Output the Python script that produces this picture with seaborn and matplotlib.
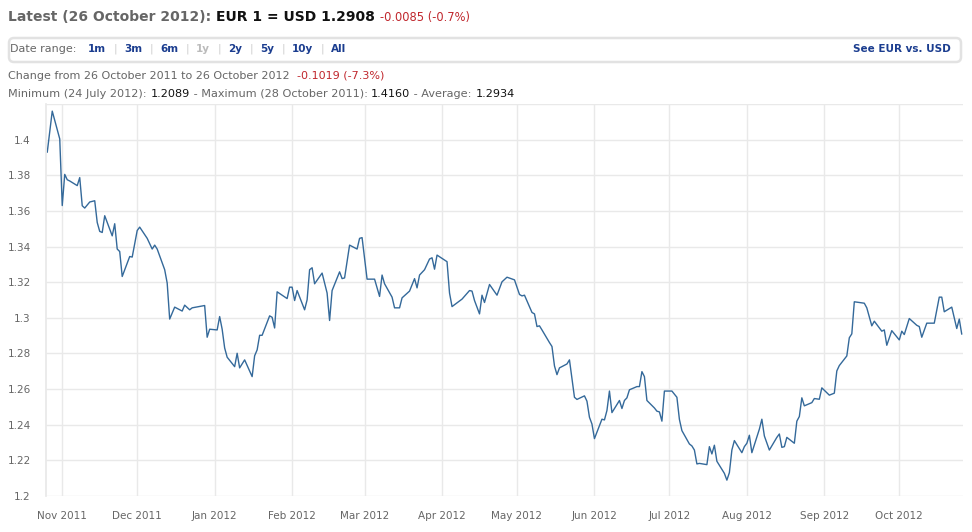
#!/usr/bin/env python3

import pandas as pd
import matplotlib.pyplot as plt
import matplotlib.dates as mdates
from matplotlib.patches import FancyBboxPatch
from matplotlib.transforms import IdentityTransform
import seaborn as sns

# EUR -> USD (26 Oct 2011 .. 26 Oct 2012)
dates = [
    "2011-10-26", "2011-10-28", "2011-10-31", "2011-11-01", "2011-11-02", "2011-11-03",
    "2011-11-04", "2011-11-07", "2011-11-08", "2011-11-09", "2011-11-10", "2011-11-12",
    "2011-11-14", "2011-11-15", "2011-11-16", "2011-11-17", "2011-11-18", "2011-11-21",
    "2011-11-22", "2011-11-23", "2011-11-24", "2011-11-25", "2011-11-28", "2011-11-29",
    "2011-12-01", "2011-12-02", "2011-12-05", "2011-12-07", "2011-12-08", "2011-12-09",
    "2011-12-12", "2011-12-13", "2011-12-14", "2011-12-16", "2011-12-19", "2011-12-20",
    "2011-12-22", "2011-12-23", "2011-12-28", "2011-12-29", "2011-12-30", "2012-01-02",
    "2012-01-03", "2012-01-04", "2012-01-05", "2012-01-06", "2012-01-09", "2012-01-10",
    "2012-01-11", "2012-01-13", "2012-01-16", "2012-01-17", "2012-01-18", "2012-01-19",
    "2012-01-20", "2012-01-23", "2012-01-24", "2012-01-25", "2012-01-26", "2012-01-30",
    "2012-01-31", "2012-02-01", "2012-02-02", "2012-02-03", "2012-02-06", "2012-02-07",
    "2012-02-08", "2012-02-09", "2012-02-10", "2012-02-13", "2012-02-15", "2012-02-16",
    "2012-02-17", "2012-02-20", "2012-02-21", "2012-02-22", "2012-02-24", "2012-02-27",
    "2012-02-28", "2012-02-29", "2012-03-02", "2012-03-05", "2012-03-07", "2012-03-08",
    "2012-03-09", "2012-03-12", "2012-03-13", "2012-03-15", "2012-03-16", "2012-03-19",
    "2012-03-21", "2012-03-22", "2012-03-23", "2012-03-25", "2012-03-27", "2012-03-28",
    "2012-03-29", "2012-03-30", "2012-04-03", "2012-04-04", "2012-04-05", "2012-04-09",
    "2012-04-12", "2012-04-13", "2012-04-14", "2012-04-16", "2012-04-17", "2012-04-18",
    "2012-04-20", "2012-04-23", "2012-04-25", "2012-04-27", "2012-04-30", "2012-05-02",
    "2012-05-03", "2012-05-04", "2012-05-07", "2012-05-08", "2012-05-09", "2012-05-10",
    "2012-05-11", "2012-05-14", "2012-05-15", "2012-05-16", "2012-05-17", "2012-05-18",
    "2012-05-21", "2012-05-22", "2012-05-24", "2012-05-25", "2012-05-28", "2012-05-29",
    "2012-05-30", "2012-05-31", "2012-06-01", "2012-06-04", "2012-06-05", "2012-06-06",
    "2012-06-07", "2012-06-08", "2012-06-11", "2012-06-12", "2012-06-13", "2012-06-14",
    "2012-06-15", "2012-06-18", "2012-06-19", "2012-06-20", "2012-06-21", "2012-06-22",
    "2012-06-25", "2012-06-26", "2012-06-27", "2012-06-28", "2012-06-29", "2012-07-02",
    "2012-07-04", "2012-07-05", "2012-07-06", "2012-07-09", "2012-07-10", "2012-07-11",
    "2012-07-12", "2012-07-13", "2012-07-16", "2012-07-17", "2012-07-18", "2012-07-19",
    "2012-07-20", "2012-07-23", "2012-07-24", "2012-07-25", "2012-07-26", "2012-07-27",
    "2012-07-30", "2012-07-31", "2012-08-01", "2012-08-02", "2012-08-03", "2012-08-06",
    "2012-08-07", "2012-08-08", "2012-08-10", "2012-08-13", "2012-08-14", "2012-08-15",
    "2012-08-16", "2012-08-17", "2012-08-20", "2012-08-21", "2012-08-22", "2012-08-23",
    "2012-08-24", "2012-08-27", "2012-08-28", "2012-08-30", "2012-08-31", "2012-09-03",
    "2012-09-05", "2012-09-06", "2012-09-07", "2012-09-10", "2012-09-11", "2012-09-12",
    "2012-09-13", "2012-09-17", "2012-09-18", "2012-09-20", "2012-09-21", "2012-09-24",
    "2012-09-25", "2012-09-26", "2012-09-28", "2012-10-01", "2012-10-02", "2012-10-03",
    "2012-10-05", "2012-10-08", "2012-10-09", "2012-10-10", "2012-10-12", "2012-10-15",
    "2012-10-17", "2012-10-18", "2012-10-19", "2012-10-22", "2012-10-24", "2012-10-25",
    "2012-10-26",
]
rates = [
    1.3929, 1.4160, 1.4004, 1.3630, 1.3805, 1.3775,
    1.3768, 1.3742, 1.3787, 1.3629, 1.3616, 1.3650,
    1.3657, 1.3535, 1.3485, 1.3479, 1.3573, 1.3460,
    1.3528, 1.3386, 1.3372, 1.3232, 1.3344, 1.3341,
    1.3490, 1.3509, 1.3446, 1.3386, 1.3408, 1.3386,
    1.3270, 1.3195, 1.2993, 1.3060, 1.3038, 1.3071,
    1.3045, 1.3056, 1.3069, 1.2891, 1.2936, 1.2932,
    1.3007, 1.2936, 1.2831, 1.2779, 1.2726, 1.2801,
    1.2719, 1.2764, 1.2670, 1.2787, 1.2820, 1.2902,
    1.2902, 1.3011, 1.3003, 1.2943, 1.3146, 1.3108,
    1.3172, 1.3172, 1.3097, 1.3153, 1.3045, 1.3101,
    1.3270, 1.3281, 1.3191, 1.3251, 1.3139, 1.2985,
    1.3153, 1.3258, 1.3220, 1.3224, 1.3408, 1.3386,
    1.3446, 1.3450, 1.3217, 1.3217, 1.3120, 1.3240,
    1.3191, 1.3116, 1.3056, 1.3056, 1.3112, 1.3150,
    1.3220, 1.3168, 1.3240, 1.3270, 1.3330, 1.3337,
    1.3273, 1.3352, 1.3315, 1.3139, 1.3063, 1.3105,
    1.3153, 1.3150, 1.3097, 1.3022, 1.3127, 1.3086,
    1.3187, 1.3127, 1.3202, 1.3228, 1.3213, 1.3131,
    1.3123, 1.3127, 1.3030, 1.3022, 1.2951, 1.2955,
    1.2932, 1.2861, 1.2839, 1.2730, 1.2681, 1.2719,
    1.2741, 1.2764, 1.2554, 1.2542, 1.2562, 1.2532,
    1.2442, 1.2404, 1.2322, 1.2431, 1.2427, 1.2480,
    1.2589, 1.2468, 1.2536, 1.2491, 1.2536, 1.2551,
    1.2596, 1.2614, 1.2614, 1.2698, 1.2670, 1.2536,
    1.2494, 1.2476, 1.2472, 1.2420, 1.2589, 1.2589,
    1.2554, 1.2430, 1.2367, 1.2292, 1.2281, 1.2258,
    1.2180, 1.2183, 1.2176, 1.2277, 1.2236, 1.2285,
    1.2195, 1.2127, 1.2089, 1.2131, 1.2258, 1.2311,
    1.2243, 1.2277, 1.2296, 1.2341, 1.2243, 1.2375,
    1.2431, 1.2337, 1.2258, 1.2329, 1.2348, 1.2273,
    1.2277, 1.2329, 1.2296, 1.2420, 1.2446, 1.2551,
    1.2506, 1.2524, 1.2547, 1.2543, 1.2607, 1.2566,
    1.2577, 1.2702, 1.2732, 1.2786, 1.2888, 1.2910,
    1.3090, 1.3082, 1.3056, 1.2955, 1.2981, 1.2925,
    1.2932, 1.2846, 1.2928, 1.2876, 1.2925, 1.2906,
    1.2996, 1.2958, 1.2951, 1.2891, 1.2970, 1.2970,
    1.3116, 1.3116, 1.3034, 1.3060, 1.2940, 1.2993,
    1.2908,
]
ytick_vals = [1.2, 1.22, 1.24, 1.26, 1.28, 1.3, 1.32, 1.34, 1.36, 1.38, 1.4]
ytick_labels = ["1.2", "1.22", "1.24", "1.26", "1.28", "1.3", "1.32", "1.34", "1.36", "1.38", "1.4"]
range_links = ["1m", "3m", "6m", "1y", "2y", "5y", "10y", "All"]

df = pd.DataFrame({"date": pd.to_datetime(dates), "rate": rates})

W, H = 972, 532
GREY = "#666666"
RED = "#c0272d"
NAVY = "#1b3d8f"
GRID = "#e9e9e9"

sns.set_theme(style="white")
plt.rcParams["font.family"] = ["DejaVu Sans"]

fig = plt.figure(figsize=(W / 100, H / 100), dpi=100)
ax = fig.add_axes([46 / W, 1 - 496 / H, (963 - 46) / W, (496 - 104) / H])

sns.lineplot(data=df, x="date", y="rate", ax=ax, color="#34699a", linewidth=1.0)

ax.set_xlim(pd.Timestamp("2011-10-25 12:00"), pd.Timestamp("2012-10-26 12:00"))
ax.set_ylim(1.2, 1.42)
ax.set_yticks(ytick_vals)
ax.set_yticklabels(ytick_labels)
ax.xaxis.set_major_locator(mdates.MonthLocator())
ax.xaxis.set_major_formatter(mdates.DateFormatter("%b %Y"))
ax.set_xlabel("")
ax.set_ylabel("")
ax.grid(True, color=GRID, linewidth=1.0)
ax.axhline(1.42, color=GRID, linewidth=1.0, zorder=0)
ax.tick_params(axis="both", colors=GRID, labelcolor=GREY, labelsize=7.5,
               length=7, width=1.0, direction="out")
ax.tick_params(axis="y", pad=4)
ax.tick_params(axis="x", pad=4)
for side in ["top", "right", "bottom"]:
    ax.spines[side].set_visible(False)
ax.spines["left"].set_color(GRID)

renderer = fig.canvas.get_renderer()


def run(x, y, parts):
    # lay text pieces one after another on a line, in pixels from top-left
    for text, color, weight, size in parts:
        t = fig.text(x / W, 1 - y / H, text, color=color, fontweight=weight,
                     fontsize=size, va="center", ha="left")
        x = t.get_window_extent(renderer).x1


run(8, 17, [
    ("Latest (26 October 2012): ", GREY, "bold", 10),
    ("EUR 1 = USD 1.2908 ", "#111111", "bold", 10),
    ("-0.0085 (-0.7%)", RED, "normal", 8.3),
])

box = FancyBboxPatch((9, H - 62), 952, 24, boxstyle="round,pad=0,rounding_size=5",
                     transform=IdentityTransform(), facecolor="white",
                     edgecolor="#e2e2e2", linewidth=1.8)
fig.patches.append(box)

fig.text(10 / W, 1 - 49 / H, "Date range:", color=GREY, fontsize=8, va="center")
link_x = [88, 124, 160, 196, 228, 260, 292, 331]
for i, (lab, lx) in enumerate(zip(range_links, link_x)):
    col = "#bbbbbb" if lab == "1y" else NAVY
    fig.text(lx / W, 1 - 49 / H, lab, color=col, fontsize=7.5,
             fontweight="bold", va="center")
    if i < len(range_links) - 1:
        fig.text((link_x[i + 1] - 9) / W, 1 - 49 / H, "|", color="#cccccc",
                 fontsize=7.5, va="center", ha="center")
fig.text(951 / W, 1 - 49 / H, "See EUR vs. USD", color=NAVY, fontsize=7.5,
         fontweight="bold", va="center", ha="right")

run(8, 76, [
    ("Change from 26 October 2011 to 26 October 2012  ", GREY, "normal", 8),
    ("-0.1019 (-7.3%)", RED, "normal", 8),
])
run(8, 94, [
    ("Minimum (24 July 2012): ", GREY, "normal", 8.1),
    ("1.2089", "#111111", "normal", 8.1),
    (" - Maximum (28 October 2011): ", GREY, "normal", 8.1),
    ("1.4160", "#111111", "normal", 8.1),
    (" - Average: ", GREY, "normal", 8.1),
    ("1.2934", "#111111", "normal", 8.1),
])

fig.savefig("out.png", dpi=100)
